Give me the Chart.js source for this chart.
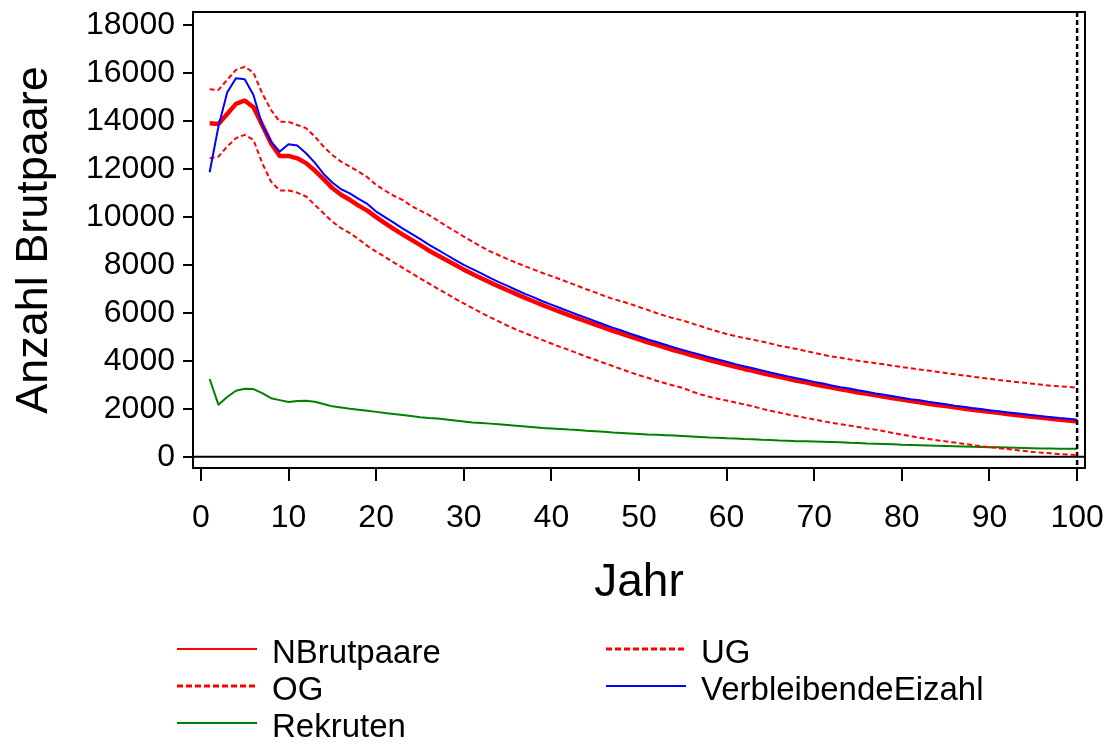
<!DOCTYPE html>
<html>
<head>
<meta charset="utf-8">
<title>Anzahl Brutpaare</title>
<script src="https://cdn.jsdelivr.net/npm/chart.js@4"></script>
<style>
    html, body { margin: 0; padding: 0; background: #fff; }
    #wrap { position: relative; width: 1110px; height: 744px; }
    #legend { position: absolute; left: 0; top: 0; font-family: "Liberation Sans", Arial, sans-serif; font-size: 33px; color: #000; }
    .item { position: absolute; height: 37px; line-height: 37px; white-space: nowrap; }
    .item svg { position: absolute; left: 0; top: 0; }
    .item span { position: absolute; top: 0; left: 95px; }
</style>
</head>
<body>
<div id="wrap">
    <canvas id="chart" width="1110" height="744"></canvas>
    <div id="legend"></div>
</div>
<script>
// --- data ---
const years = [
    1, 2, 3, 4, 5, 6, 7, 8, 9, 10, 11, 12, 13, 14, 15, 16, 17, 18, 19, 20,
    21, 22, 23, 24, 25, 26, 27, 28, 29, 30, 31, 32, 33, 34, 35, 36, 37, 38, 39, 40,
    41, 42, 43, 44, 45, 46, 47, 48, 49, 50, 51, 52, 53, 54, 55, 56, 57, 58, 59, 60,
    61, 62, 63, 64, 65, 66, 67, 68, 69, 70, 71, 72, 73, 74, 75, 76, 77, 78, 79, 80,
    81, 82, 83, 84, 85, 86, 87, 88, 89, 90, 91, 92, 93, 94, 95, 96, 97, 98, 99, 100
];

const nBrutpaare = [
    13900, 13875, 14290, 14710, 14850, 14570, 13830, 13070, 12540, 12540,
    12440, 12240, 11930, 11570, 11200, 10920, 10710, 10470, 10260, 9990,
    9740, 9500, 9270, 9050, 8830, 8600, 8400, 8200, 8000, 7800,
    7620, 7440, 7270, 7100, 6940, 6780, 6620, 6470, 6320, 6180,
    6040, 5900, 5770, 5640, 5510, 5380, 5250, 5130, 5010, 4890,
    4770, 4660, 4550, 4440, 4340, 4230, 4130, 4030, 3940, 3840,
    3750, 3660, 3580, 3490, 3410, 3330, 3250, 3170, 3100, 3020,
    2950, 2880, 2810, 2750, 2680, 2620, 2560, 2500, 2440, 2380,
    2320, 2270, 2210, 2160, 2110, 2060, 2010, 1960, 1920, 1870,
    1830, 1780, 1740, 1700, 1660, 1620, 1580, 1540, 1510, 1470
];

const verbleibendeEizahl = [
    11860, 13760, 15180, 15780, 15740, 15080, 13830, 13140, 12720, 13030,
    12970, 12650, 12260, 11790, 11430, 11150, 10980, 10750, 10540, 10220,
    9990, 9760, 9520, 9300, 9080, 8840, 8630, 8420, 8210, 8000,
    7820, 7640, 7460, 7280, 7120, 6950, 6790, 6640, 6480, 6340,
    6200, 6060, 5920, 5790, 5650, 5510, 5380, 5260, 5130, 5010,
    4890, 4780, 4670, 4560, 4450, 4350, 4250, 4150, 4050, 3960,
    3860, 3770, 3690, 3600, 3510, 3430, 3350, 3270, 3200, 3120,
    3050, 2970, 2900, 2840, 2770, 2710, 2640, 2580, 2520, 2460,
    2400, 2350, 2290, 2240, 2190, 2130, 2080, 2030, 1990, 1940,
    1900, 1850, 1810, 1770, 1730, 1690, 1650, 1610, 1580, 1540
];

const og = [
    15320, 15290, 15710, 16125, 16260, 16010, 15150, 14460, 13960, 13960,
    13830, 13700, 13350, 12930, 12580, 12300, 12100, 11890, 11650, 11330,
    11100, 10880, 10710, 10460, 10270, 10080, 9850, 9620, 9400, 9180,
    8960, 8760, 8560, 8400, 8240, 8090, 7940, 7800, 7660, 7530,
    7400, 7260, 7120, 6980, 6850, 6710, 6580, 6480, 6370, 6240,
    6120, 5990, 5870, 5770, 5680, 5560, 5450, 5330, 5220, 5120,
    5030, 4950, 4880, 4800, 4720, 4630, 4560, 4490, 4410, 4330,
    4250, 4180, 4130, 4060, 4000, 3950, 3900, 3850, 3790, 3740,
    3690, 3640, 3590, 3540, 3490, 3440, 3390, 3340, 3290, 3250,
    3200, 3160, 3120, 3080, 3040, 3000, 2960, 2940, 2910, 2880
];

const ug = [
    12440, 12510, 12930, 13280, 13420, 13210, 12240, 11470, 11100, 11100,
    11010, 10850, 10500, 10150, 9800, 9530, 9320, 9070, 8790, 8550,
    8330, 8100, 7880, 7660, 7440, 7230, 7010, 6800, 6590, 6390,
    6190, 6000, 5820, 5640, 5460, 5300, 5150, 5010, 4860, 4720,
    4580, 4450, 4310, 4170, 4040, 3910, 3780, 3650, 3520, 3400,
    3290, 3170, 3060, 2960, 2870, 2720, 2600, 2500, 2420, 2340,
    2260, 2180, 2100, 2000, 1920, 1840, 1760, 1690, 1620, 1550,
    1480, 1410, 1360, 1300, 1240, 1180, 1130, 1060, 990, 920,
    860, 790, 740, 690, 640, 590, 540, 490, 440, 400,
    360, 320, 280, 240, 200, 170, 140, 110, 90, 70
];

const rekruten = [
    3240, 2170, 2490, 2750, 2830, 2820, 2650, 2440, 2360, 2280,
    2320, 2330, 2290, 2200, 2100, 2050, 2000, 1960, 1920, 1870,
    1820, 1780, 1740, 1700, 1650, 1610, 1590, 1550, 1510, 1470,
    1430, 1410, 1380, 1350, 1320, 1290, 1260, 1230, 1200, 1180,
    1160, 1130, 1110, 1080, 1060, 1040, 1010, 990, 970, 950,
    930, 920, 900, 880, 860, 840, 820, 800, 790, 770,
    760, 740, 730, 710, 700, 680, 670, 650, 640, 630,
    620, 610, 600, 580, 570, 550, 540, 530, 520, 500,
    490, 480, 470, 460, 450, 440, 430, 420, 410, 400,
    390, 380, 370, 360, 350, 345, 340, 335, 330, 330
];

const xTicks = [0, 10, 20, 30, 40, 50, 60, 70, 80, 90, 100];
const yTicks = [0, 2000, 4000, 6000, 8000, 10000, 12000, 14000, 16000, 18000];
const endYear = 100;

const FONT = '"Liberation Sans", Arial, sans-serif';

function toPoints(values) {
    return years.map((yr, i) => ({ x: yr, y: values[i] }));
}

// --- series look + legend layout (column, row) ---
const series = [
    { label: 'NBrutpaare', values: nBrutpaare, color: '#ff0000', width: 4.5, dash: [], order: 1, col: 0, row: 0 },
    { label: 'OG', values: og, color: '#ff0000', width: 2, dash: [5, 3], order: 2, col: 0, row: 1 },
    { label: 'Rekruten', values: rekruten, color: '#008000', width: 2, dash: [], order: 4, col: 0, row: 2 },
    { label: 'UG', values: ug, color: '#ff0000', width: 2, dash: [5, 3], order: 3, col: 1, row: 0 },
    { label: 'VerbleibendeEizahl', values: verbleibendeEizahl, color: '#0000ff', width: 2, dash: [], order: 0, col: 1, row: 1 }
];

// keep the plot box where the layout padding says (no label overhang)
function noOverhang(axis) {
    axis.paddingTop = 0;
    axis.paddingBottom = 0;
    axis.paddingLeft = 0;
    axis.paddingRight = 0;
}

// frame, zero line and the dotted line at the last year
const framePlugin = {
    id: 'frame',
    beforeDatasetsDraw(chart) {
        const { ctx, chartArea: a, scales } = chart;
        const y0 = scales.y.getPixelForValue(0);
        ctx.save();
        ctx.strokeStyle = '#000';
        ctx.lineWidth = 2;
        ctx.beginPath();
        ctx.moveTo(a.left, y0);
        ctx.lineTo(a.right, y0);
        ctx.stroke();
        ctx.restore();
    },
    afterDatasetsDraw(chart) {
        const { ctx, chartArea: a, scales } = chart;
        ctx.save();
        ctx.strokeStyle = '#000';
        ctx.lineWidth = 2;
        ctx.strokeRect(a.left, a.top, a.right - a.left, a.bottom - a.top);
        const xe = scales.x.getPixelForValue(endYear);
        ctx.lineWidth = 2.5;
        ctx.setLineDash([5, 3]);
        ctx.beginPath();
        ctx.moveTo(xe, a.top);
        ctx.lineTo(xe, a.bottom);
        ctx.stroke();
        ctx.restore();
    }
};

const ctx = document.getElementById('chart').getContext('2d');
new Chart(ctx, {
    type: 'line',
    data: {
        datasets: series.map(s => ({
            label: s.label,
            data: toPoints(s.values),
            borderColor: s.color,
            backgroundColor: s.color,
            borderWidth: s.width,
            borderDash: s.dash,
            borderJoinStyle: 'round',
            pointRadius: 0,
            tension: 0,
            fill: false,
            order: s.order
        }))
    },
    options: {
        responsive: false,
        animation: false,
        devicePixelRatio: 1,
        layout: { padding: { left: 0, right: 25, top: 12, bottom: 133 } },
        plugins: {
            legend: { display: false },
            tooltip: { enabled: false }
        },
        scales: {
            x: {
                type: 'linear',
                min: -0.9,
                max: 100.9,
                afterBuildTicks: axis => { axis.ticks = xTicks.map(v => ({ value: v })); },
                afterFit: axis => { axis.height = 143; noOverhang(axis); },
                border: { display: false },
                grid: { display: true, drawOnChartArea: false, drawTicks: true, tickLength: 13, color: '#000', lineWidth: 2 },
                ticks: {
                    color: '#000',
                    font: { family: FONT, size: 32 },
                    padding: 18,
                    maxRotation: 0,
                    autoSkip: false,
                    callback: v => String(v)
                },
                title: { display: true, text: 'Jahr', color: '#000', font: { family: FONT, size: 46 }, padding: 0 }
            },
            y: {
                type: 'linear',
                min: -470,
                max: 18540,
                afterBuildTicks: axis => { axis.ticks = yTicks.map(v => ({ value: v })); },
                afterFit: axis => { axis.width = 193; noOverhang(axis); },
                border: { display: false },
                grid: { display: true, drawOnChartArea: false, drawTicks: true, tickLength: 10, color: '#000', lineWidth: 2 },
                ticks: {
                    color: '#000',
                    font: { family: FONT, size: 32 },
                    padding: 8,
                    autoSkip: false,
                    callback: v => String(v)
                },
                title: { display: true, text: 'Anzahl Brutpaare', color: '#000', font: { family: FONT, size: 45 }, padding: { top: 8, bottom: 0 } }
            }
        }
    },
    plugins: [framePlugin]
});

// --- legend below the chart, two columns ---
const legendEl = document.getElementById('legend');
const colX = [177, 606];
const rowTop = 633;
const rowStep = 37;
series.forEach(s => {
    const item = document.createElement('div');
    item.className = 'item';
    item.style.left = colX[s.col] + 'px';
    item.style.top = (rowTop + s.row * rowStep) + 'px';
    const dash = s.dash.length ? 'stroke-dasharray="6 3"' : '';
    const w = s.dash.length ? 3 : 2;
    item.innerHTML = `<svg width="82" height="37"><line x1="0" y1="16" x2="80" y2="16" stroke="${s.color}" stroke-width="${w}" ${dash}/></svg><span>${s.label}</span>`;
    legendEl.appendChild(item);
});
</script>
</body>
</html>
